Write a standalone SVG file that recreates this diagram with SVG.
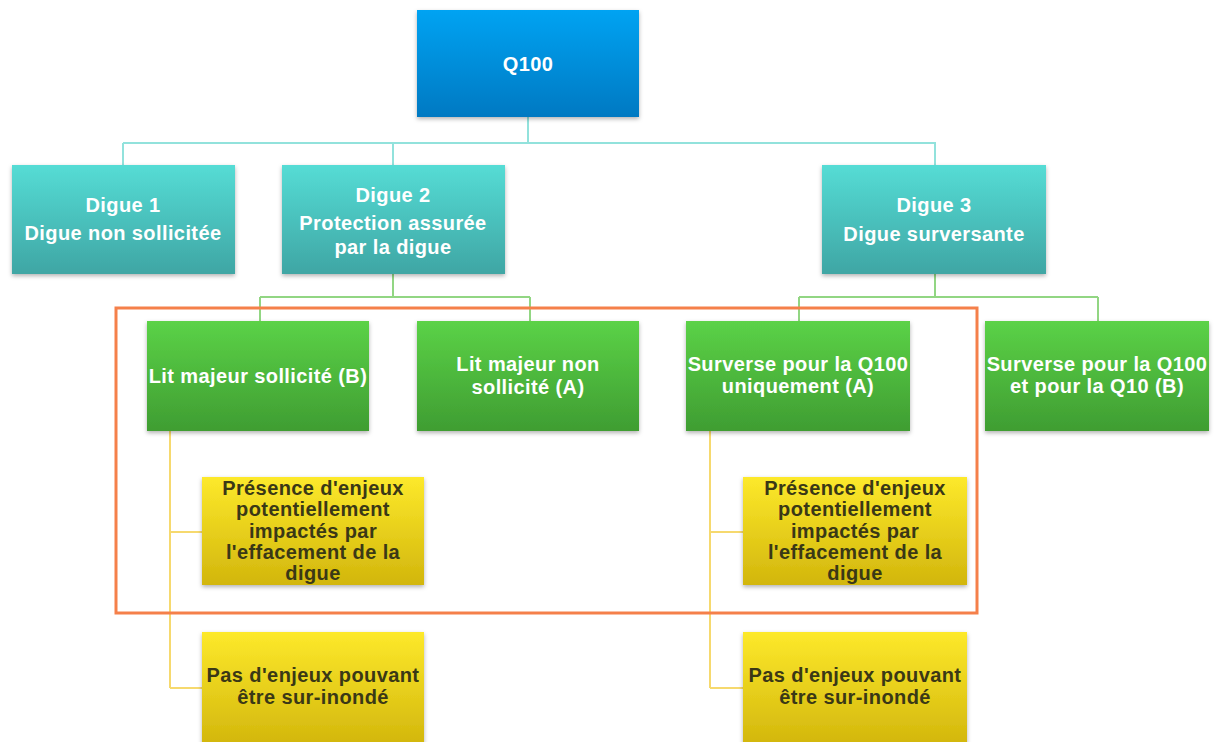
<svg xmlns="http://www.w3.org/2000/svg" width="1216" height="742" viewBox="0 0 1216 742">
<defs>
<linearGradient id="gBlue" x1="0" y1="0" x2="0" y2="1"><stop offset="0" stop-color="#00a3f2"/><stop offset="1" stop-color="#0079c2"/></linearGradient>
<linearGradient id="gTeal" x1="0" y1="0" x2="0" y2="1"><stop offset="0" stop-color="#55dcd5"/><stop offset="1" stop-color="#3fa6a4"/></linearGradient>
<linearGradient id="gGreen" x1="0" y1="0" x2="0" y2="1"><stop offset="0" stop-color="#5bd247"/><stop offset="1" stop-color="#3f9d32"/></linearGradient>
<linearGradient id="gYellow" x1="0" y1="0" x2="0" y2="1"><stop offset="0" stop-color="#fde92b"/><stop offset="1" stop-color="#d2b60c"/></linearGradient>
<filter id="sh" x="-5%" y="-5%" width="110%" height="120%"><feDropShadow dx="0" dy="2" stdDeviation="2" flood-color="#000" flood-opacity="0.3"/></filter>
</defs>
<style>
text{font-family:"Liberation Sans",Arial,sans-serif;font-weight:bold;font-size:20px;letter-spacing:0.4px;text-anchor:middle;dominant-baseline:central}
.w{fill:#ffffff}
.d{fill:#3a3816}
.tl{fill:none;stroke:#92e2dc;stroke-width:2}
.gl{fill:none;stroke:#92d683;stroke-width:2}
.yl{fill:none;stroke:#f6d96e;stroke-width:2}
</style>
<rect width="1216" height="742" fill="#ffffff"/>
<g id="connectors">
<path class="tl" d="M528,117V143M123,143H936M123,143V165M393,143V165M935,143V165"/>
<path class="gl" d="M393,274V297M260,297H530M260,297V321M530,297V321"/>
<path class="gl" d="M935,274V297M799,297H1098M799,297V321M1098,297V321"/>
<path class="yl" d="M170,431V688M170,532H202M170,688H202"/>
<path class="yl" d="M710,431V688M710,532H743M710,688H743"/>
</g>
<g id="q100"><rect x="417" y="10" width="222" height="107" fill="url(#gBlue)" filter="url(#sh)"/><text class="w" x="528" y="64">Q100</text></g>
<g id="digue1"><rect x="12" y="165" width="223" height="109" fill="url(#gTeal)" filter="url(#sh)"/><text class="w" x="123" y="205">Digue 1</text><text class="w" x="123" y="233">Digue non sollicitée</text></g>
<g id="digue2"><rect x="282" y="165" width="223" height="109" fill="url(#gTeal)" filter="url(#sh)"/><text class="w" x="393" y="195">Digue 2</text><text class="w" x="393" y="223">Protection assurée</text><text class="w" x="393" y="247">par la digue</text></g>
<g id="digue3"><rect x="822" y="165" width="224" height="109" fill="url(#gTeal)" filter="url(#sh)"/><text class="w" x="934" y="205">Digue 3</text><text class="w" x="934" y="234">Digue surversante</text></g>
<g id="litB"><rect x="147" y="321" width="222" height="110" fill="url(#gGreen)" filter="url(#sh)"/><text class="w" x="258" y="376">Lit majeur sollicité (B)</text></g>
<g id="litA"><rect x="417" y="321" width="222" height="110" fill="url(#gGreen)" filter="url(#sh)"/><text class="w" x="528" y="364">Lit majeur non</text><text class="w" x="528" y="387">sollicité (A)</text></g>
<g id="survA"><rect x="686" y="321" width="224" height="110" fill="url(#gGreen)" filter="url(#sh)"/><text class="w" x="798" y="364">Surverse pour la Q100</text><text class="w" x="798" y="386">uniquement (A)</text></g>
<g id="survB"><rect x="985" y="321" width="224" height="110" fill="url(#gGreen)" filter="url(#sh)"/><text class="w" x="1097" y="364">Surverse pour la Q100</text><text class="w" x="1097" y="386">et pour la Q10 (B)</text></g>
<g id="presence1"><rect x="202" y="477" width="222" height="108" fill="url(#gYellow)" filter="url(#sh)"/><text class="d" x="313" y="488">Présence d'enjeux</text><text class="d" x="313" y="509">potentiellement</text><text class="d" x="313" y="531">impactés par</text><text class="d" x="313" y="552">l'effacement de la</text><text class="d" x="313" y="573">digue</text></g>
<g id="pas1"><rect x="202" y="632" width="222" height="114" fill="url(#gYellow)" filter="url(#sh)"/><text class="d" x="313" y="675">Pas d'enjeux pouvant</text><text class="d" x="313" y="697">être sur-inondé</text></g>
<g id="presence2"><rect x="743" y="477" width="224" height="108" fill="url(#gYellow)" filter="url(#sh)"/><text class="d" x="855" y="488">Présence d'enjeux</text><text class="d" x="855" y="509">potentiellement</text><text class="d" x="855" y="531">impactés par</text><text class="d" x="855" y="552">l'effacement de la</text><text class="d" x="855" y="573">digue</text></g>
<g id="pas2"><rect x="743" y="632" width="224" height="114" fill="url(#gYellow)" filter="url(#sh)"/><text class="d" x="855" y="675">Pas d'enjeux pouvant</text><text class="d" x="855" y="697">être sur-inondé</text></g>
<g id="highlight"><rect x="116" y="308" width="861" height="305" fill="none" stroke="#f5804a" stroke-width="3"/></g>
</svg>
